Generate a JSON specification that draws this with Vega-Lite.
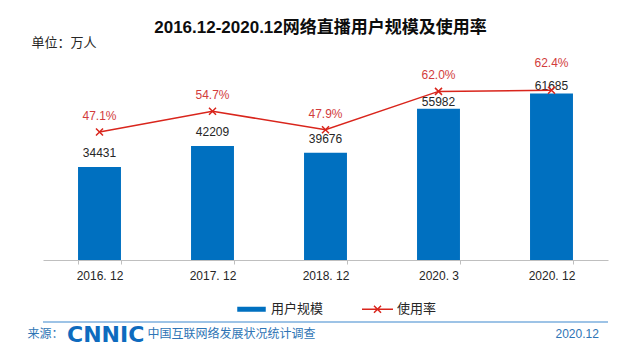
{
  "$schema": "https://vega.github.io/schema/vega-lite/v6.json",
  "width": 565,
  "height": 189,
  "autosize": {"type": "none"},
  "padding": {"left": 43, "top": 71, "right": 25, "bottom": 96},
  "background": "white",
  "config": {
    "view": {"stroke": null},
    "font": "Liberation Sans, 'Noto Sans CJK SC', sans-serif"
  },
  "title": {
    "text": "2016.12-2020.12网络直播用户规模及使用率",
    "fontSize": 17,
    "fontWeight": "bold",
    "color": "#0D0D0D",
    "anchor": "middle",
    "frame": "group",
    "dx": -5,
    "offset": -14,
    "baseline": "alphabetic"
  },
  "data": {
    "values": [
      {"period": "2016. 12", "users": 34431, "rate": 0.471},
      {"period": "2017. 12", "users": 42209, "rate": 0.547},
      {"period": "2018. 12", "users": 39676, "rate": 0.479},
      {"period": "2020. 3", "users": 55982, "rate": 0.620},
      {"period": "2020. 12", "users": 61685, "rate": 0.624}
    ]
  },
  "layer": [
    {
      "encoding": {
        "x": {
          "field": "period",
          "type": "nominal",
          "sort": null,
          "scale": {"paddingInner": 0.62, "paddingOuter": 0.31},
          "axis": {
            "title": "来源：",
            "titleX": -16,
            "titleY": 73,
            "titleAlign": "left",
            "titleBaseline": "middle",
            "titleAngle": 0,
            "titleFontSize": 12,
            "titleFontWeight": "normal",
            "titleColor": "#2E74B5",
            "labelAngle": 0,
            "labelFontSize": 12,
            "labelColor": "#262626",
            "labelPadding": 6,
            "tickSize": 4,
            "tickBand": "extent",
            "tickColor": "#BFBFBF",
            "domainColor": "#BFBFBF",
            "grid": false
          }
        },
        "y": {
          "field": "users",
          "type": "quantitative",
          "scale": {"domain": [0, 70000], "nice": false, "zero": true},
          "axis": {
            "orient": "left",
            "labels": false,
            "ticks": false,
            "domain": false,
            "grid": false,
            "title": "单位：万人",
            "titleAngle": 0,
            "titleX": -12,
            "titleY": -29,
            "titleAlign": "left",
            "titleBaseline": "middle",
            "titleFontSize": 13,
            "titleFontWeight": "normal",
            "titleColor": "#262626"
          }
        }
      },
      "layer": [
        {
          "mark": {"type": "bar", "color": "#0070C0"},
          "encoding": {
            "color": {
              "datum": "用户规模",
              "type": "nominal",
              "scale": {"domain": ["用户规模", "使用率"], "range": ["#0070C0", "#D9251C"]},
              "legend": {
                "orient": "none",
                "legendX": 24,
                "legendY": 223.5,
                "direction": "horizontal",
                "padding": 0,
                "title": "CNNIC",
                "titleOrient": "left",
                "titleBaseline": "top",
                "titlePadding": 92,
                "titleFont": "DejaVu Sans",
                "titleFontSize": 22,
                "titleFontWeight": "bold",
                "titleColor": "#0E6BBE",
                "symbolSize": 729,
                "labelOffset": 5,
                "columnPadding": 34,
                "labelFontSize": 13,
                "labelColor": "#262626",
                "encode": {
                  "title": {"update": {"dy": {"value": 19}}},
                  "symbols": {
                    "update": {
                      "shape": {"signal": "datum.value === '用户规模' ? 'M-1,-0.13H1V0.13H-1Z' : 'M-1.15,0H1.15M-0.26,-0.26L0.26,0.26M-0.26,0.26L0.26,-0.26'"},
                      "fill": {"signal": "datum.value === '用户规模' ? '#0070C0' : 'transparent'"},
                      "stroke": {"signal": "datum.value === '用户规模' ? 'transparent' : '#D9251C'"},
                      "strokeWidth": {"value": 1.5},
                      "opacity": {"value": 1}
                    }
                  }
                }
              }
            }
          }
        },
        {
          "transform": [{"filter": "datum.users < 50000"}],
          "mark": {"type": "text", "baseline": "alphabetic", "dy": -10, "fontSize": 12, "color": "#262626"},
          "encoding": {
            "text": {"field": "users", "type": "quantitative", "format": "d"}
          }
        },
        {
          "transform": [{"filter": "datum.users >= 50000"}],
          "mark": {"type": "text", "baseline": "alphabetic", "dy": -3, "fontSize": 12, "color": "#262626"},
          "encoding": {
            "text": {"field": "users", "type": "quantitative", "format": "d"}
          }
        }
      ]
    },
    {
      "encoding": {
        "x": {
          "field": "period",
          "type": "nominal",
          "sort": null,
          "scale": {"paddingInner": 0.62, "paddingOuter": 0.31}
        },
        "y": {
          "field": "rate",
          "type": "quantitative",
          "scale": {"domain": [0, 0.695], "nice": false, "zero": true},
          "axis": {
            "orient": "right",
            "labels": false,
            "ticks": false,
            "domain": false,
            "grid": false,
            "title": "中国互联网络发展状况统计调查\u3000\u3000\u3000\u3000\u3000\u3000\u3000\u3000\u3000\u3000\u3000\u3000\u3000\u3000\u3000\u3000\u3000\u3000\u3000\u2002\u20022020.12",
            "titleAngle": 0,
            "titleX": -461,
            "titleY": 262,
            "titleAlign": "left",
            "titleBaseline": "middle",
            "titleFontSize": 12,
            "titleFontWeight": "normal",
            "titleColor": "#2E74B5"
          }
        }
      },
      "layer": [
        {
          "mark": {"type": "line", "strokeWidth": 1.5},
          "encoding": {
            "color": {"datum": "使用率", "type": "nominal"}
          }
        },
        {
          "mark": {"type": "point", "shape": "M-1,-1L1,1M-1,1L1,-1", "size": 49, "strokeWidth": 1.5, "filled": false, "color": "#D9251C", "opacity": 1}
        },
        {
          "transform": [{"filter": "datum.period !== '2020. 12'"}],
          "mark": {"type": "text", "baseline": "alphabetic", "dy": -12, "fontSize": 12, "color": "#D23C3C"},
          "encoding": {
            "text": {"field": "rate", "type": "quantitative", "format": ".1%"}
          }
        },
        {
          "transform": [{"filter": "datum.period === '2020. 12'"}],
          "mark": {"type": "text", "baseline": "alphabetic", "dy": -23, "fontSize": 12, "color": "#D23C3C"},
          "encoding": {
            "text": {"field": "rate", "type": "quantitative", "format": ".1%"}
          }
        }
      ]
    },
    {
      "data": {"values": [{"line": "footer"}]},
      "mark": {"type": "rule", "color": "#9DC3E6", "strokeWidth": 2},
      "encoding": {
        "y": {
          "datum": -0.228,
          "type": "quantitative",
          "scale": {"domain": [0, 0.695], "nice": false, "zero": false},
          "axis": null
        }
      }
    }
  ],
  "resolve": {"scale": {"y": "independent"}}
}
